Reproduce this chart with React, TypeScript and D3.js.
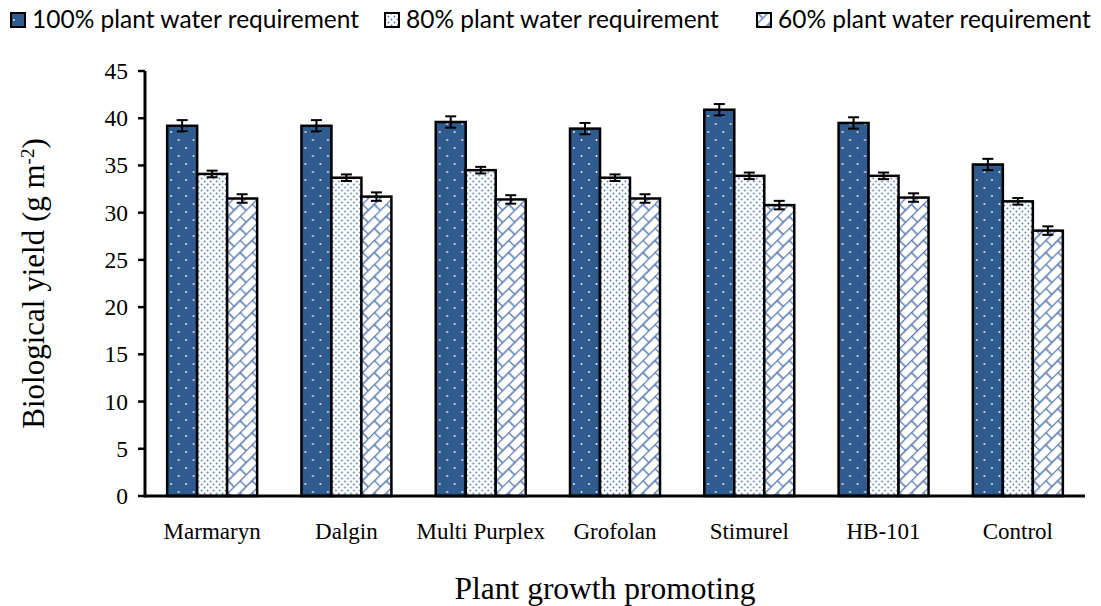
import React from 'react'
import * as d3 from 'd3'

// categories and series
const categories = ['Marmaryn', 'Dalgin', 'Multi Purplex', 'Grofolan', 'Stimurel', 'HB-101', 'Control']
const seriesNames = ['100% plant water requirement', '80% plant water requirement', '60% plant water requirement']
const water100 = [39.2, 39.2, 39.6, 38.9, 40.9, 39.5, 35.1]
const water80 = [34.1, 33.7, 34.5, 33.7, 33.9, 33.9, 31.2]
const water60 = [31.5, 31.7, 31.4, 31.5, 30.8, 31.6, 28.1]
const err100 = [0.6, 0.6, 0.6, 0.6, 0.6, 0.6, 0.6]
const err80 = [0.35, 0.35, 0.35, 0.35, 0.35, 0.35, 0.35]
const err60 = [0.45, 0.45, 0.45, 0.45, 0.45, 0.45, 0.45]
const yTicks = [0, 5, 10, 15, 20, 25, 30, 35, 40, 45]

const serif = "'Liberation Serif', 'Times New Roman', serif"

const App = () => {
  const width = 1101,
    height = 606
  const left = 145,
    right = 1085,
    top = 71,
    bottom = 496

  const values = [water100, water80, water60]
  const errors = [err100, err80, err60]
  const patterns = ['p100', 'p80', 'p60']

  // scales
  const x = d3.scaleBand().domain(categories).range([left, right]).paddingInner(0.33).paddingOuter(0.165)
  const sub = d3.scaleBand().domain(['0', '1', '2']).range([0, x.bandwidth()])
  const y = d3.scaleLinear().domain([0, 45]).range([bottom, top])

  const legendX = [10, 384, 756]

  return (
    <div style={{ position: 'absolute', left: 0, top: 0 }}>
      <svg width={width} height={height}>
        <defs>
          <pattern id="p100" width="15" height="16" patternUnits="userSpaceOnUse">
            <rect width="15" height="16" fill="#2F5B8F" />
            <circle cx="4" cy="4" r="1" fill="#dfe6f0" />
            <circle cx="11.5" cy="12" r="1" fill="#dfe6f0" />
          </pattern>
          <pattern id="p80" width="6" height="6" patternUnits="userSpaceOnUse">
            <rect width="6" height="6" fill="#fff" />
            <circle cx="1.5" cy="1.5" r="0.9" fill="#4F74AA" />
            <circle cx="4.5" cy="4.5" r="0.9" fill="#4F74AA" />
          </pattern>
          <pattern id="p60" width="17" height="17" patternUnits="userSpaceOnUse" patternTransform="rotate(-45)">
            <rect width="17" height="17" fill="#fff" />
            <g stroke="#5C7DB2" strokeWidth="1.6">
              <line x1="0" x2="17" y1="0.5" y2="0.5" />
              <line x1="0" x2="17" y1="9" y2="9" />
              <line x1="0.5" x2="0.5" y1="0.5" y2="9" />
              <line x1="9" x2="9" y1="9" y2="17.5" />
            </g>
          </pattern>
        </defs>

        {/* legend */}
        {seriesNames.map((s, i) => (
          <g key={s} transform={`translate(${legendX[i]}, 0)`}>
            <rect x="1" y="13" width="14" height="14" fill={`url(#${patterns[i]})`} stroke="#000" strokeWidth="2" />
            <text x="22" y="28" fontFamily="Lato, sans-serif" fontSize="24.5" fill="#000">
              {s}
            </text>
          </g>
        ))}

        {/* bars */}
        {categories.map((c, ci) => (
          <g key={c} transform={`translate(${x(c)}, 0)`}>
            {values.map((v, si) => {
              const bx = sub(String(si)) as number
              const bw = sub.bandwidth()
              const val = v[ci]
              const e = errors[si][ci]
              const cx = bx + bw / 2
              return (
                <g key={si}>
                  <rect
                    x={bx}
                    y={y(val)}
                    width={bw}
                    height={y(0) - y(val)}
                    fill={`url(#${patterns[si]})`}
                    stroke="#000"
                    strokeWidth="2.5"
                  />
                  <g stroke="#000" strokeWidth="2">
                    <line x1={cx} x2={cx} y1={y(val + e)} y2={y(val - e)} />
                    <line x1={cx - 5.5} x2={cx + 5.5} y1={y(val + e)} y2={y(val + e)} />
                    <line x1={cx - 5.5} x2={cx + 5.5} y1={y(val - e)} y2={y(val - e)} />
                  </g>
                </g>
              )
            })}
            <text x={x.bandwidth() / 2} y="539" textAnchor="middle" fontFamily={serif} fontSize="23">
              {c}
            </text>
          </g>
        ))}

        {/* axes */}
        <line x1={left} x2={right} y1={bottom} y2={bottom} stroke="#000" strokeWidth="3" />
        <line x1={left} x2={left} y1={top} y2={bottom + 1.5} stroke="#000" strokeWidth="3" />
        {yTicks.map(t => (
          <g key={t} transform={`translate(${left}, ${y(t)})`}>
            <line x1="-7" x2="0" y1="0" y2="0" stroke="#000" strokeWidth="2.5" />
            <text x="-17" y="8" textAnchor="end" fontFamily={serif} fontSize="23.5">
              {t}
            </text>
          </g>
        ))}

        {/* axis titles */}
        <text x={(left + right) / 2 - 10} y="599" textAnchor="middle" fontFamily={serif} fontSize="31.5">
          Plant growth promoting
        </text>
        <text
          transform={`translate(44, ${(top + bottom) / 2}) rotate(-90)`}
          textAnchor="middle"
          fontFamily={serif}
          fontSize="31"
        >
          Biological yield (g m
          <tspan baselineShift="super" fontSize="19">
            -2
          </tspan>
          )
        </text>
      </svg>
    </div>
  )
}

export default App
